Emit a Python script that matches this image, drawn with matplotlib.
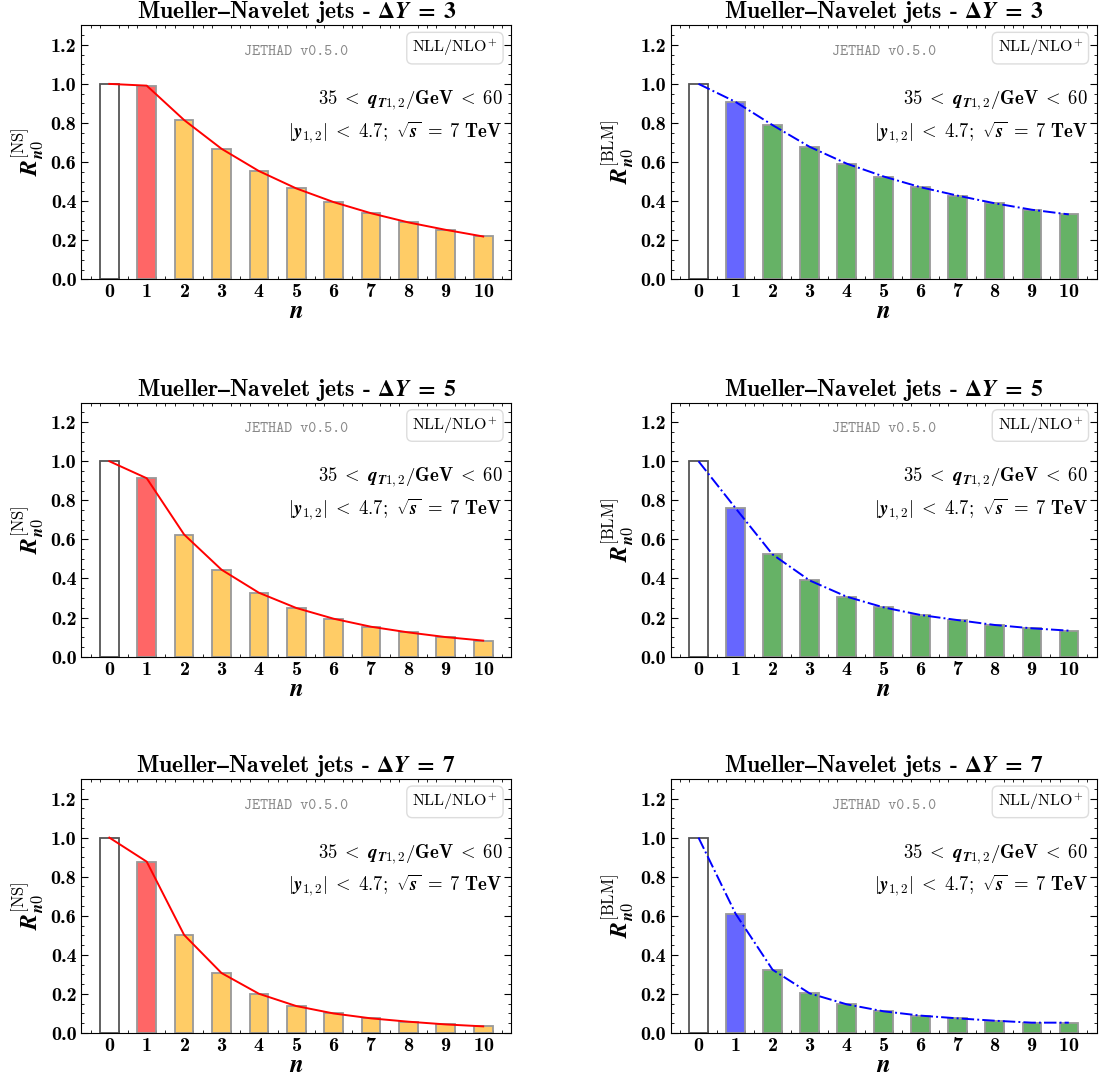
import matplotlib
matplotlib.use("Agg")
import matplotlib.pyplot as plt
from matplotlib.ticker import MultipleLocator, FormatStrFormatter
import numpy as np

plt.rcParams['mathtext.fontset'] = 'cm'
plt.rcParams['font.family'] = 'cmb10'
plt.rcParams['axes.formatter.use_mathtext'] = True
plt.rcParams['axes.unicode_minus'] = False

# data
n_vals = list(range(11))
delta_y = [3, 5, 7]

ns_dy3 = [1.0, 0.991, 0.815, 0.668, 0.554, 0.465, 0.395, 0.338, 0.291, 0.253, 0.219]
ns_dy5 = [1.0, 0.913, 0.625, 0.445, 0.327, 0.249, 0.194, 0.153, 0.124, 0.100, 0.082]
ns_dy7 = [1.0, 0.877, 0.502, 0.307, 0.201, 0.138, 0.100, 0.075, 0.058, 0.044, 0.034]

blm_dy3 = [1.0, 0.908, 0.789, 0.678, 0.592, 0.526, 0.471, 0.428, 0.389, 0.356, 0.332]
blm_dy5 = [1.0, 0.760, 0.523, 0.390, 0.307, 0.252, 0.213, 0.187, 0.162, 0.145, 0.133]
blm_dy7 = [1.0, 0.611, 0.324, 0.203, 0.147, 0.111, 0.089, 0.075, 0.063, 0.053, 0.053]

ns_series = [ns_dy3, ns_dy5, ns_dy7]
blm_series = [blm_dy3, blm_dy5, blm_dy7]

fig = plt.figure(figsize=(11.09, 10.8), dpi=100)

row_bottoms = [0.7414, 0.392, 0.0435]
col_specs = [(0.0733, 0.3877), (0.6048, 0.384)]


def draw_panel(ax, vals, dy, scheme):
    if scheme == 'NS':
        c1, crest = '#ff6666', '#ffcc66'
        lcol, lsty = 'red', '-'
        ylab = r'$\mathbfit{R}_{\mathbfit{n}\mathbf{0}}^{[\mathrm{NS}]}$'
    else:
        c1, crest = '#6666ff', '#66b266'
        lcol, lsty = 'blue', '-.'
        ylab = r'$\mathbfit{R}_{\mathbfit{n}\mathbf{0}}^{[\mathrm{BLM}]}$'

    colors = ['white', c1] + [crest] * (len(vals) - 2)
    edges = ['#555555'] + ['#999999'] * (len(vals) - 1)
    ax.bar(n_vals, vals, width=0.5, color=colors, edgecolor=edges, linewidth=1.3, zorder=2)
    ax.plot(n_vals, vals, color=lcol, ls=lsty, lw=1.4, zorder=3)

    ax.set_xlim(-0.75, 10.75)
    ax.set_ylim(0, 1.3)
    ax.set_xticks(n_vals)
    ax.xaxis.set_minor_locator(MultipleLocator(0.25))
    ax.yaxis.set_major_locator(MultipleLocator(0.2))
    ax.yaxis.set_minor_locator(MultipleLocator(0.05))
    ax.yaxis.set_major_formatter(FormatStrFormatter('%.1f'))
    ax.tick_params(axis='both', which='both', direction='in', top=True, right=True, labelsize=14.5)
    ax.tick_params(axis='x', which='major', length=0, pad=3)
    ax.tick_params(axis='y', which='major', length=5)
    ax.tick_params(which='minor', length=2.5)

    ax.set_title(r'Mueller$\mathbf{–}$Navelet jets - $\mathbf{\Delta}\mathbfit{Y}\;\mathbf{=}\;\mathbf{%d}$' % dy,
                 fontsize=17, pad=3, math_fontfamily='stix')
    ax.set_xlabel(r'$\mathbfit{n}$', fontsize=18, labelpad=0)
    ax.set_ylabel(ylab, fontsize=17, labelpad=4)

    ax.text(0.50, 0.895, 'JETHAD v0.5.0', transform=ax.transAxes, ha='center', va='center',
            family='cmtt10', fontsize=11, color='#888888')
    ax.text(0.968, 0.91, r'NLL/NLO$^{+}$', transform=ax.transAxes, ha='right', va='center',
            family='cmr10', fontsize=11.5,
            bbox=dict(boxstyle='round,pad=0.35', facecolor='white', edgecolor='#dddddd', lw=1))
    ax.text(0.98, 0.706, r'$\mathbf{35}\;<\;\mathbfit{q}_{\mathbfit{T}\mathbf{1,2}}\mathbf{/GeV}\;<\;\mathbf{60}$',
            transform=ax.transAxes, ha='right', va='center', fontsize=13.5)
    ax.text(0.98, 0.581, r'$|\mathbfit{y}_{\mathbf{1,2}}|\;<\;\mathbf{4.7;}\ \sqrt{\mathbfit{s}}\;=\;\mathbf{7\ TeV}$',
            transform=ax.transAxes, ha='right', va='center', fontsize=13.5)


for i, dy in enumerate(delta_y):
    x0, w = col_specs[0]
    ax = fig.add_axes([x0, row_bottoms[i], w, 0.2352])
    draw_panel(ax, ns_series[i], dy, 'NS')
    x0, w = col_specs[1]
    ax = fig.add_axes([x0, row_bottoms[i], w, 0.2352])
    draw_panel(ax, blm_series[i], dy, 'BLM')

fig.savefig('out.png', dpi=100, facecolor='white')
